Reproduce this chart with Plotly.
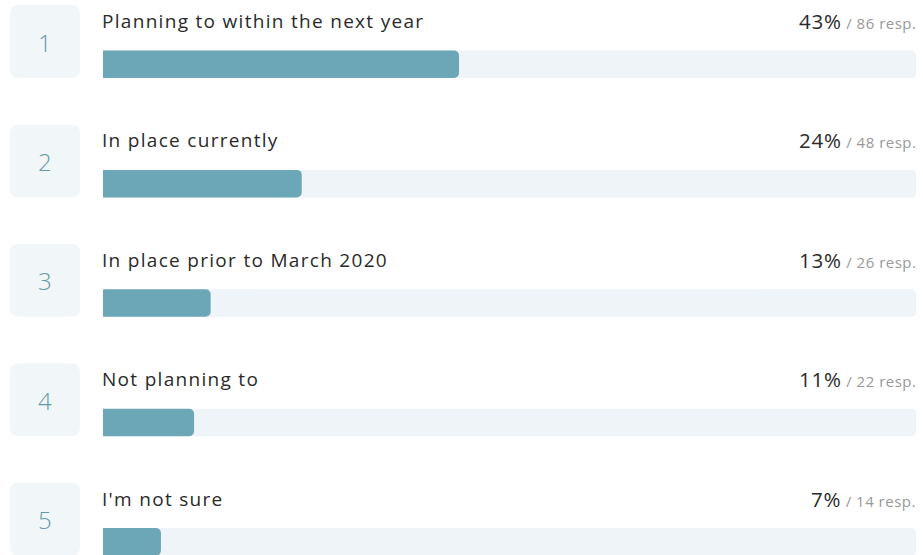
import plotly.graph_objects as go

# Survey answers, shares and response counts
answers = [
    "Planning to within the next year",
    "In place currently",
    "In place prior to March 2020",
    "Not planning to",
    "I'm not sure",
]
shares = [43, 24, 13, 11, 7]
responses = [86, 48, 26, 22, 14]
ranks = [1, 2, 3, 4, 5]

W, H = 923, 555
ROW_STEP = 119.4
BAR_TOP0 = 50.5
BAR_H = 27.5
PX_PER_PCT = 8.28
BAR_X0 = 103
TRACK_X1 = 916

BAR_COLOR = "#6ba7b7"
TRACK_COLOR = "#eef4f7"
BOX_COLOR = "#f1f6f8"
FONT = "Open Sans"

rows = list(range(len(answers)))
# row index -> pixel centre of bar
c0 = BAR_TOP0 + BAR_H / 2
y_range = [(H - c0) / ROW_STEP, -c0 / ROW_STEP]
x_range = [-BAR_X0 / PX_PER_PCT, (W - BAR_X0) / PX_PER_PCT]

fig = go.Figure()
fig.add_trace(go.Bar(
    x=shares,
    y=rows,
    orientation="h",
    width=BAR_H / ROW_STEP,
    marker=dict(color=BAR_COLOR, line=dict(width=0)),
    hoverinfo="skip",
    xaxis="x",
    yaxis="y",
))


def rounded_rect(x0, y0, x1, y1, r):
    return (
        f"M{x0 + r},{y0} L{x1 - r},{y0} Q{x1},{y0} {x1},{y0 + r} "
        f"L{x1},{y1 - r} Q{x1},{y1} {x1 - r},{y1} "
        f"L{x0 + r},{y1} Q{x0},{y1} {x0},{y1 - r} "
        f"L{x0},{y0 + r} Q{x0},{y0} {x0 + r},{y0} Z"
    )


shapes = []
annotations = []
for i in rows:
    off = i * ROW_STEP
    bt = BAR_TOP0 + off
    # background track
    shapes.append(dict(
        type="path", xref="x2", yref="y2", layer="below",
        path=rounded_rect(BAR_X0, bt, TRACK_X1, bt + BAR_H, 5),
        fillcolor=TRACK_COLOR, line=dict(width=0),
    ))
    # rank box
    shapes.append(dict(
        type="path", xref="x2", yref="y2", layer="below",
        path=rounded_rect(10, 5 + off, 80, 78 + off, 9),
        fillcolor=BOX_COLOR, line=dict(width=0),
    ))
    annotations.append(dict(
        xref="x2", yref="y2", x=45, y=42 + off, text=str(ranks[i]),
        showarrow=False, xanchor="center", yanchor="middle",
        font=dict(family=FONT, size=24, color="#659ba6", weight=300),
    ))
    annotations.append(dict(
        xref="x2", yref="y2", x=BAR_X0 - 3, y=21 + off,
        text=f"<span style='letter-spacing:1.3px'>{answers[i]}</span>",
        showarrow=False, xanchor="left", yanchor="middle",
        font=dict(family=FONT, size=19, color="#2a2a2a"),
    ))
    annotations.append(dict(
        xref="x2", yref="y2", x=TRACK_X1 + 2, y=21 + off,
        text=(f"<span style='font-size:20.5px;color:#2a2a2a;font-weight:500;letter-spacing:0.8px'>{shares[i]}%</span>"
              f"<span style='font-size:15px;color:#999999;letter-spacing:0.5px'> / {responses[i]} resp.</span>"),
        showarrow=False, xanchor="right", yanchor="middle",
        font=dict(family=FONT, size=19, color="#333333"),
    ))

fig.update_layout(
    width=W, height=H,
    margin=dict(l=0, r=0, t=0, b=0),
    paper_bgcolor="white", plot_bgcolor="white",
    showlegend=False,
    barcornerradius=5,
    xaxis=dict(range=x_range, visible=False, fixedrange=True),
    yaxis=dict(range=y_range, visible=False, fixedrange=True),
    xaxis2=dict(range=[0, W], visible=False, overlaying="x", fixedrange=True),
    yaxis2=dict(range=[H, 0], visible=False, overlaying="y", fixedrange=True),
    shapes=shapes,
    annotations=annotations,
)
# invisible trace to activate the pixel-unit axes
fig.add_trace(go.Scatter(x=[0], y=[0], xaxis="x2", yaxis="y2", mode="markers",
                         marker=dict(opacity=0), hoverinfo="skip"))

fig.write_html("out.html")
